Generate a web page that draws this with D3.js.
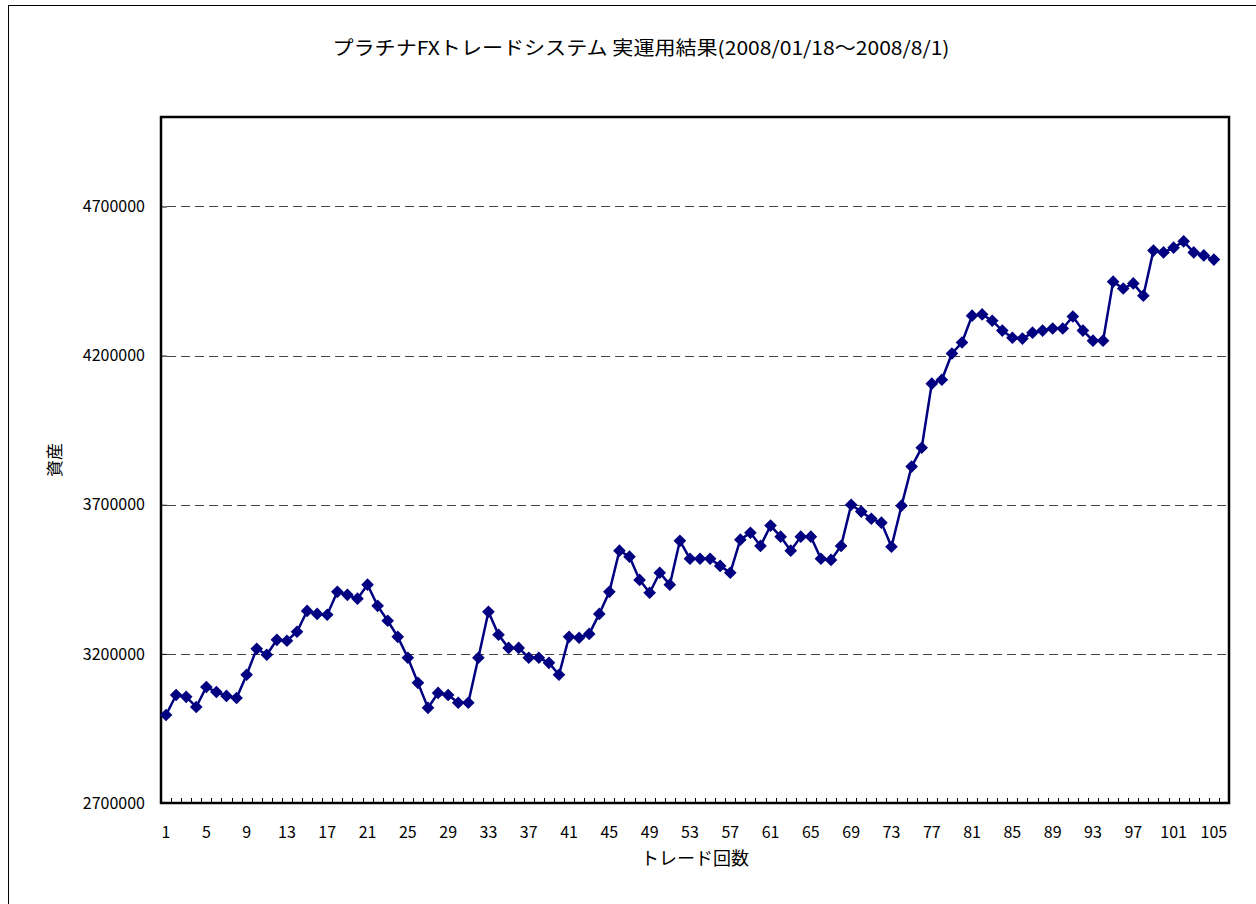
<!DOCTYPE html>
<html>
<head>
<meta charset="utf-8">
<script src="https://cdn.jsdelivr.net/npm/d3@7"></script>
<style>
  body { margin: 0; background: #fff; }
  svg text { font-family: "Noto Sans CJK JP", "Noto Sans", sans-serif; fill: #000; }
</style>
</head>
<body>
<svg width="1256" height="904"></svg>
<script>
// equity after each trade (yen)
const equity = [
    2995000, 3062000, 3056000, 3022000, 3089000, 3072000, 3059000, 3052000, 3130000, 3217000,
    3197000, 3247000, 3244000, 3274000, 3344000, 3334000, 3331000, 3408000, 3398000, 3385000,
    3432000, 3361000, 3311000, 3257000, 3187000, 3103000, 3019000, 3069000, 3062000, 3036000,
    3036000, 3187000, 3341000, 3264000, 3220000, 3220000, 3187000, 3187000, 3170000, 3130000,
    3257000, 3254000, 3267000, 3334000, 3408000, 3546000, 3526000, 3448000, 3405000, 3472000,
    3432000, 3579000, 3519000, 3519000, 3519000, 3495000, 3472000, 3583000, 3606000, 3562000,
    3630000, 3593000, 3546000, 3593000, 3593000, 3519000, 3515000, 3562000, 3700000, 3677000,
    3653000, 3640000, 3559000, 3697000, 3828000, 3891000, 4106000, 4119000, 4207000, 4244000,
    4334000, 4338000, 4317000, 4284000, 4260000, 4257000, 4277000, 4284000, 4291000, 4291000,
    4331000, 4284000, 4250000, 4250000, 4448000, 4425000, 4442000, 4401000, 4552000, 4546000,
    4562000, 4583000, 4546000, 4536000, 4522000
];
// the category axis has one empty slot after the last trade
const slots = d3.range(1, equity.length + 2);
const xLabels = slots.filter(d => (d - 1) % 4 === 0);
const yTicks = [2700000, 3200000, 3700000, 4200000, 4700000];
const yMax = 5000000;

const title = "プラチナFXトレードシステム 実運用結果(2008/01/18～2008/8/1)";
const xTitle = "トレード回数";
const yTitle = "資産";

const svg = d3.select("svg");
const plot = { left: 161, right: 1229, top: 117, bottom: 803 };

// outer chart frame
svg.append("rect")
    .attr("x", 8.5).attr("y", 5.5)
    .attr("width", 1260).attr("height", 910)
    .attr("fill", "none").attr("stroke", "#000").attr("stroke-width", 1);

const x = d3.scaleBand()
    .domain(slots)
    .range([plot.left, plot.right])
    .padding(0);

const y = d3.scaleLinear()
    .domain([yTicks[0], yMax])
    .range([plot.bottom, plot.top]);

// dashed gridlines
svg.append("g")
    .selectAll("line")
    .data(yTicks.slice(1))
    .enter().append("line")
    .attr("x1", plot.left + 6).attr("x2", plot.right)
    .attr("y1", d => Math.round(y(d)) + 0.5)
    .attr("y2", d => Math.round(y(d)) + 0.5)
    .attr("stroke", "#444")
    .attr("stroke-width", 1)
    .attr("stroke-dasharray", "9,5");

// y axis: inward ticks, labels on the left
const yAxis = svg.append("g")
    .attr("transform", `translate(${plot.left},0)`)
    .call(d3.axisRight(y).tickValues(yTicks).tickSize(6).tickFormat(""));
yAxis.select(".domain").remove();
yAxis.selectAll("line").attr("stroke", "#000");

svg.append("g")
    .selectAll("text")
    .data(yTicks)
    .enter().append("text")
    .attr("x", 145)
    .attr("y", d => y(d))
    .attr("dy", "0.36em")
    .attr("text-anchor", "end")
    .style("font-size", "16px")
    .text(d => d);

// x axis: small inward ticks between categories
svg.append("g")
    .selectAll("line")
    .data(slots)
    .enter().append("line")
    .attr("x1", d => Math.round(x(d)) + 0.5)
    .attr("x2", d => Math.round(x(d)) + 0.5)
    .attr("y1", plot.bottom)
    .attr("y2", plot.bottom - 5)
    .attr("stroke", "#000");

svg.append("g")
    .selectAll("text")
    .data(xLabels)
    .enter().append("text")
    .attr("x", d => x(d) + x.bandwidth() / 2)
    .attr("y", 838)
    .attr("text-anchor", "middle")
    .style("font-size", "16px")
    .text(d => d);

// plot frame
svg.append("rect")
    .attr("x", plot.left).attr("y", plot.top)
    .attr("width", plot.right - plot.left)
    .attr("height", plot.bottom - plot.top)
    .attr("fill", "none")
    .attr("stroke", "#000")
    .attr("stroke-width", 2.5);

// series
const line = d3.line()
    .x((d, i) => x(slots[i]) + x.bandwidth() / 2)
    .y(d => y(d));

svg.append("path")
    .datum(equity)
    .attr("d", line)
    .attr("fill", "none")
    .attr("stroke", "#000080")
    .attr("stroke-width", 2.5);

svg.append("g")
    .selectAll("path")
    .data(equity)
    .enter().append("path")
    .attr("d", d3.symbol().type(d3.symbolSquare).size(80))
    .attr("transform", (d, i) => `translate(${x(slots[i]) + x.bandwidth() / 2},${y(d)}) rotate(45)`)
    .attr("fill", "#000080");

// titles
svg.append("text")
    .attr("x", 641).attr("y", 55)
    .attr("text-anchor", "middle")
    .attr("textLength", 617)
    .attr("lengthAdjust", "spacingAndGlyphs")
    .style("font-size", "19px")
    .text(title);

svg.append("text")
    .attr("x", (plot.left + plot.right) / 2).attr("y", 865)
    .attr("text-anchor", "middle")
    .style("font-size", "18px")
    .text(xTitle);

svg.append("text")
    .attr("transform", `translate(61,${(plot.top + plot.bottom) / 2}) rotate(-90)`)
    .attr("text-anchor", "middle")
    .style("font-size", "17px")
    .text(yTitle);
</script>
</body>
</html>
